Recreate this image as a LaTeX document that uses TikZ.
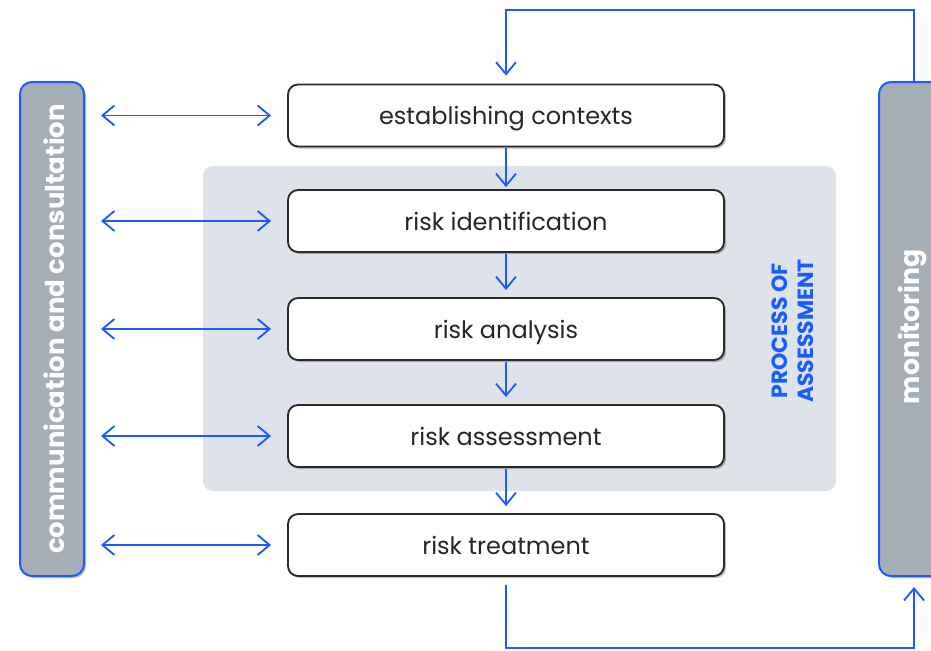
\documentclass[tikz,border=0pt]{standalone}
\usepackage{fontspec}
\setmainfont{Poppins}
\usetikzlibrary{arrows.meta,shadows,calc}
\definecolor{flowblue}{HTML}{1A5CFF}
\definecolor{barfill}{HTML}{A5AEB4}
\definecolor{panelfill}{HTML}{DDE3E9}
\definecolor{boxline}{HTML}{2A2A2A}
\tikzset{
  openbarb/.tip={Straight Barb[length=9pt,width=15pt,line width=1.4pt]},
  stepbox/.style={draw=boxline, line width=1.4pt, fill=white, rounded corners=7.5pt,
    minimum width=327pt, minimum height=46.5pt, inner sep=0pt,
    text height=13.5pt, text depth=0pt,
    font=\fontsize{18}{21}\selectfont, text=black!85,
    drop shadow={shadow xshift=1.5pt, shadow yshift=-1.5pt, opacity=0.25, fill=black}},
  sidebar/.style={draw=flowblue, line width=1.5pt, fill=barfill, rounded corners=9pt,
    inner sep=0pt,
    drop shadow={shadow xshift=1.5pt, shadow yshift=-1.5pt, opacity=0.25, fill=black}},
  flow/.style={draw=flowblue, line width=1.4pt, -{openbarb}},
  twoway/.style={draw=flowblue, line width=1.4pt, {openbarb}-{openbarb}},
  loopline/.style={draw=flowblue, line width=1.4pt},
}
\begin{document}
\begin{tikzpicture}[x=0.75pt,y=-0.75pt]
\useasboundingbox (0,0) rectangle (931,650);

% assessment panel
\node[fill=panelfill, rounded corners=7.5pt, minimum width=474.75pt, minimum height=243.75pt,
  inner sep=0pt] (panel) at (519.5,328.5) {};

% side bars
\node[sidebar, minimum width=48pt, minimum height=370.5pt] (comm) at (52,329) {};
\node[rotate=90, text=white, font=\bfseries\fontsize{19.5}{22}\selectfont] at (54,329)
  {communication and consultation};
\node[sidebar, minimum width=60pt, minimum height=370.5pt, anchor=west] (mon) at (878,329) {};
\node[rotate=90, text=white, font=\bfseries\fontsize{20}{22}\selectfont] at (912,327)
  {monitoring};

% process steps
\node[stepbox] (s1) at (506,115.5) {establishing contexts};
\node[stepbox] (s2) at (506,221) {risk identification};
\node[stepbox] (s3) at (506,329) {risk analysis};
\node[stepbox] (s4) at (506,436) {risk assessment};
\node[stepbox] (s5) at (506,545) {risk treatment};

% panel caption
\node[rotate=90, text=flowblue, align=center, font=\bfseries\fontsize{16.5}{19.5}\selectfont]
  (cap) at (793,331) {PROCESS OF\\ASSESSMENT};

% flow between steps
\draw[flow] ($(s1.south)+(0,1)$) -- ($(s2.north)+(0,-2)$);
\draw[flow] ($(s2.south)+(0,1)$) -- ($(s3.north)+(0,-7)$);
\draw[flow] ($(s3.south)+(0,1)$) -- ($(s4.north)+(0,-7)$);
\draw[flow] ($(s4.south)+(0,1)$) -- ($(s5.north)+(0,-7)$);

% consultation links
\foreach \s in {s1,s2,s3,s4,s5}
  \draw[twoway] (comm.east |- \s.west) ++(16,0) -- ($(\s.west)+(-16,0)$);

% monitoring feedback loops
\coordinate (topturn) at (914,10);
\coordinate (botturn) at (914,648);
\draw[loopline, -{openbarb}]
  (mon.north -| topturn) -- (topturn) -- (s1.north |- topturn) -- ($(s1.north)+(0,-8)$);
\draw[loopline, -{openbarb}]
  ($(s5.south)+(0,8)$) -- (s5.south |- botturn) -- (botturn) -- ($(mon.south -| botturn)+(0,10)$);
\end{tikzpicture}
\end{document}
